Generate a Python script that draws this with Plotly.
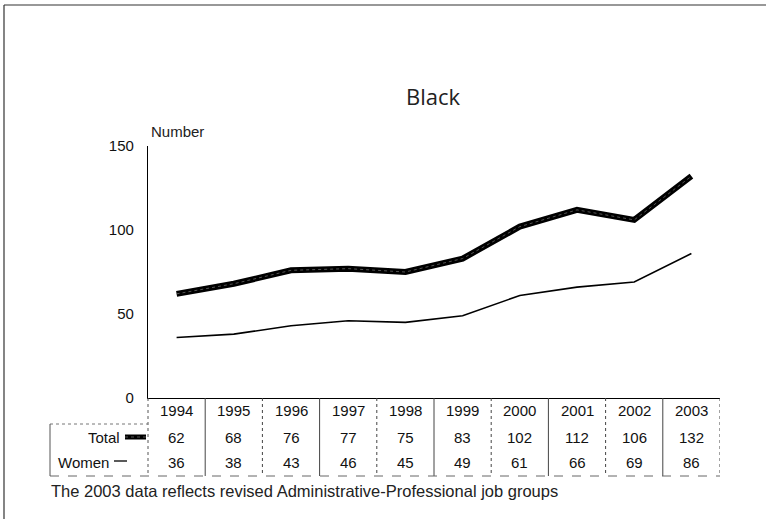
import plotly.graph_objects as go

years = ["1994", "1995", "1996", "1997", "1998", "1999", "2000", "2001", "2002", "2003"]
total = [62, 68, 76, 77, 75, 83, 102, 112, 106, 132]
women = [36, 38, 43, 46, 45, 49, 61, 66, 69, 86]
y_ticks = [0, 50, 100, 150]
title_text = "Black"
y_label = "Number"
footnote = "The 2003 data reflects revised Administrative-Professional job groups"

W, H = 766, 519
L, R, T, B = 148, 720, 146, 398
PW, PH = R - L, B - T


def px(x):
    return (x - L) / PW


def py(y):
    return (B - y) / PH


FONT = "Liberation Sans, Arial, sans-serif"
TFS = 15
xs = list(range(len(years)))

fig = go.Figure()
fig.add_trace(go.Scatter(x=xs, y=total, mode="lines", line=dict(color="black", width=6),
                         hoverinfo="skip", showlegend=False))
fig.add_trace(go.Scatter(x=xs, y=total, mode="lines", line=dict(color="#6a6a6a", width=0.8, dash="dot"),
                         hoverinfo="skip", showlegend=False))
fig.add_trace(go.Scatter(x=xs, y=women, mode="lines", line=dict(color="black", width=1.6),
                         hoverinfo="skip", showlegend=False))

shapes = []
ann = []

# title and axis label
ann.append(dict(text=title_text, xref="paper", yref="paper", x=px(433), y=py(96), xanchor="center",
                yanchor="middle", showarrow=False, font=dict(family="Open Sans, sans-serif", size=22, color="#222")))
ann.append(dict(text=y_label, xref="paper", yref="paper", x=px(149), y=py(131), xanchor="left",
                yanchor="middle", showarrow=False, font=dict(family=FONT, size=15, color="#222")))

# table rows
row_y = {"year": 410, "total": 437, "women": 462}
for i, yr in enumerate(years):
    ann.append(dict(text=yr, xref="x", yref="paper", x=i, y=py(row_y["year"]), showarrow=False,
                    xanchor="center", yanchor="middle", font=dict(family=FONT, size=TFS, color="#111")))
    ann.append(dict(text=str(total[i]), xref="x", yref="paper", x=i, y=py(row_y["total"]), showarrow=False,
                    xanchor="center", yanchor="middle", font=dict(family=FONT, size=TFS, color="#111")))
    ann.append(dict(text=str(women[i]), xref="x", yref="paper", x=i, y=py(row_y["women"]), showarrow=False,
                    xanchor="center", yanchor="middle", font=dict(family=FONT, size=TFS, color="#111")))

ann.append(dict(text="Total", xref="paper", yref="paper", x=px(122), y=py(row_y["total"]), showarrow=False,
                xanchor="right", yanchor="middle", font=dict(family=FONT, size=TFS, color="#111")))
ann.append(dict(text="Women", xref="paper", yref="paper", x=px(111), y=py(row_y["women"]), showarrow=False,
                xanchor="right", yanchor="middle", font=dict(family=FONT, size=TFS, color="#111")))
ann.append(dict(text=footnote, xref="paper", yref="paper", x=px(49), y=py(491), showarrow=False,
                xanchor="left", yanchor="middle", font=dict(family=FONT, size=16.5, color="#222")))

# legend keys
shapes.append(dict(type="line", xref="paper", yref="paper", x0=px(125), x1=px(146), y0=py(437), y1=py(437),
                   line=dict(color="black", width=5)))
shapes.append(dict(type="line", xref="paper", yref="paper", x0=px(125), x1=px(146), y0=py(437), y1=py(437),
                   line=dict(color="#6a6a6a", width=0.8, dash="dot")))
shapes.append(dict(type="line", xref="paper", yref="paper", x0=px(114), x1=px(127), y0=py(461), y1=py(461),
                   line=dict(color="black", width=1.3)))

# table grid
for i in range(len(years)):
    xb = i + 0.5
    shapes.append(dict(type="line", xref="x", yref="paper", x0=xb, x1=xb, y0=py(398), y1=py(476),
                       line=dict(color="#444", width=1, dash="solid" if i % 2 == 0 else "dot")))
shapes.append(dict(type="line", xref="paper", yref="paper", x0=0, x1=0, y0=py(398), y1=py(476),
                   line=dict(color="#555", width=1, dash="dot")))
shapes.append(dict(type="line", xref="paper", yref="paper", x0=px(50), x1=px(720), y0=py(476), y1=py(476),
                   line=dict(color="#666", width=1, dash="dash")))
shapes.append(dict(type="line", xref="paper", yref="paper", x0=px(50), x1=px(148), y0=py(424), y1=py(424),
                   line=dict(color="#777", width=1, dash="dot")))
shapes.append(dict(type="line", xref="paper", yref="paper", x0=px(50), x1=px(50), y0=py(424), y1=py(476),
                   line=dict(color="#555", width=1)))

# outer frame
shapes.append(dict(type="line", xref="paper", yref="paper", x0=px(4), x1=px(766), y0=py(5), y1=py(5),
                   line=dict(color="#333", width=1.2)))
shapes.append(dict(type="line", xref="paper", yref="paper", x0=px(4), x1=px(4), y0=py(5), y1=py(519),
                   line=dict(color="#333", width=1.2)))

fig.update_layout(
    width=W, height=H,
    margin=dict(l=L, r=W - R, t=T, b=H - B, pad=0),
    paper_bgcolor="white", plot_bgcolor="white",
    shapes=shapes, annotations=ann,
    xaxis=dict(range=[-0.5, len(years) - 0.5], showticklabels=False, showgrid=False, zeroline=False,
               showline=True, linecolor="black", linewidth=1.3, ticks=""),
    yaxis=dict(range=[0, 150], tickvals=y_ticks, showgrid=False, zeroline=False, showline=True,
               linecolor="black", linewidth=1.3, ticks="outside", ticklen=10, tickcolor="rgba(0,0,0,0)",
               tickfont=dict(family=FONT, size=15, color="#111")),
)

fig.write_html("out.html", config={"displayModeBar": False},
               post_script="document.body.style.margin='0';")
